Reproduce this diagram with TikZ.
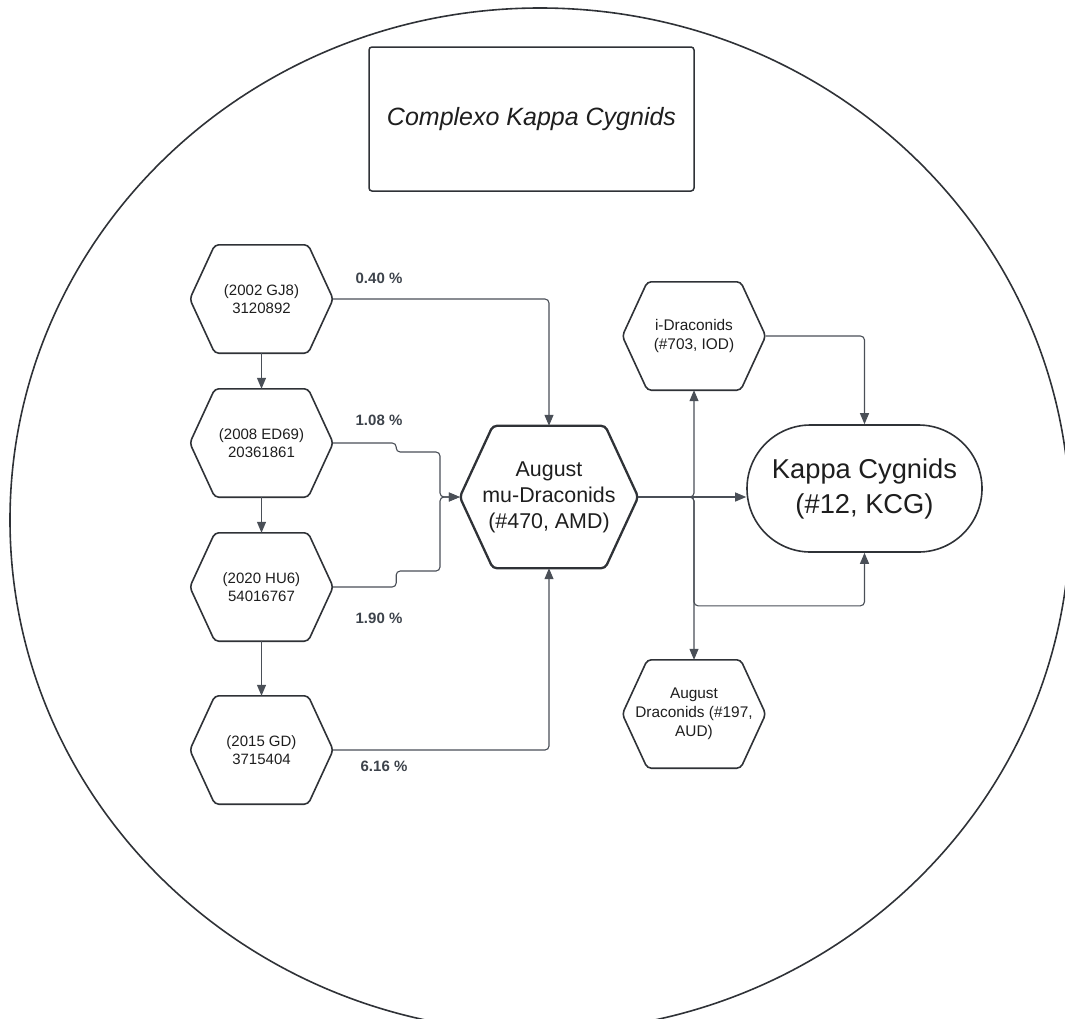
\documentclass[tikz,border=0pt]{standalone}
\usepackage{fontspec}
\setmainfont{Liberation Sans}
\usetikzlibrary{arrows.meta,shapes.misc}
\definecolor{lineC}{HTML}{4A4F57}
\definecolor{edgeC}{HTML}{2F3237}
\definecolor{txtC}{HTML}{1E1E1E}
\definecolor{pctC}{HTML}{3D434B}
\begin{document}
\begin{tikzpicture}[x=1pt,y=-1pt,
  hexbox/.style={minimum width=143pt,minimum height=108pt,inner sep=0pt,align=center,text=txtC,font=\fontsize{15}{18}\selectfont},
  hexline/.style={draw=edgeC,rounded corners=4pt},
  pct/.style={font=\fontsize{15}{18}\selectfont\bfseries,text=pctC},
  conn/.style={draw=lineC,line width=1.1pt,rounded corners=4pt,-{Triangle[length=11pt,width=9pt]}}]
\useasboundingbox (0,0) rectangle (1065,1018);
\begin{scope}
\clip (0,0) rectangle (1065,1018);
\draw[edgeC,line width=1.6pt] (540,520) ellipse [x radius=530,y radius=512];
\end{scope}
% title
\node[draw=edgeC,line width=1.5pt,rounded corners=3pt,minimum width=325pt,minimum height=144pt,font=\fontsize{25}{30}\selectfont\itshape,text=txtC] (title) at (531.5,119) {Complexo Kappa Cygnids};
% parent bodies
\node[hexbox] (h1) at (261.5,299) {(2002 GJ8)\\3120892};
\node[hexbox] (h2) at (261.5,443) {(2008 ED69)\\20361861};
\node[hexbox] (h3) at (261.5,587) {(2020 HU6)\\54016767};
\node[hexbox] (h4) at (261.5,750) {(2015 GD)\\3715404};
% showers
\node[hexbox,minimum width=178pt,minimum height=142pt,font=\fontsize{21.4}{26}\selectfont] (amd) at (549,497) {August\\mu-Draconids\\(\#470, AMD)};
\node[hexbox,font=\fontsize{15.4}{19}\selectfont] (iod) at (694,336) {i-Draconids\\(\#703, IOD)};
\node[hexbox,font=\fontsize{15.4}{19}\selectfont] (aud) at (694,714) {August\\Draconids (\#197,\\AUD)};
\node[rounded rectangle,draw=edgeC,line width=1.6pt,minimum width=235pt,minimum height=127pt,inner sep=0pt,align=center,text=txtC,font=\fontsize{27.3}{35}\selectfont] (kcg) at (864.5,488.5) {Kappa Cygnids\\(\#12, KCG)};
\foreach \hx/\ins/\lw in {h1/25/1.6,h2/25/1.6,h3/25/1.6,h4/25/1.6,iod/25/1.6,aud/25/1.6,amd/33/2.3}
  \draw[hexline,line width=\lw pt] (\hx.west) -- ([xshift=\ins pt]\hx.north west) -- ([xshift=-\ins pt]\hx.north east) -- (\hx.east) -- ([xshift=-\ins pt]\hx.south east) -- ([xshift=\ins pt]\hx.south west) -- cycle;
% percentages
\node[pct] (p1) at (379,278) {0.40 \%};
\node[pct] (p2) at (379,420) {1.08 \%};
\node[pct] (p3) at (379,618) {1.90 \%};
\node[pct] (p4) at (384,766) {6.16 \%};
% connectors
\coordinate (mrg) at (440,497);
\coordinate (jn) at (694,497);
\draw[conn] (h1) -- (h2);
\draw[conn] (h2) -- (h3);
\draw[conn] (h3) -- (h4);
\draw[conn] (h1.east) -| (amd.north);
\draw[conn] (h2.east) -- ++(63,0) -- ++(0,9) -| (mrg) -- (amd.west);
\draw[conn] (h3.east) -- ++(63,0) -- ++(0,-16) -| (mrg) -- (amd.west);
\draw[conn] (h4.east) -| (amd.south);
\draw[conn] (amd.east) -- (amd.east -| kcg.west);
\draw[conn] (amd.east) -- (jn) -- (iod.south);
\draw[conn] (amd.east) -- (jn) -- (aud.north);
\draw[conn] (amd.east) -- (jn) |- ([yshift=-53pt]kcg.south) -- (kcg.south);
\draw[conn] (iod.east) -| (kcg.north);
\end{tikzpicture}
\end{document}
